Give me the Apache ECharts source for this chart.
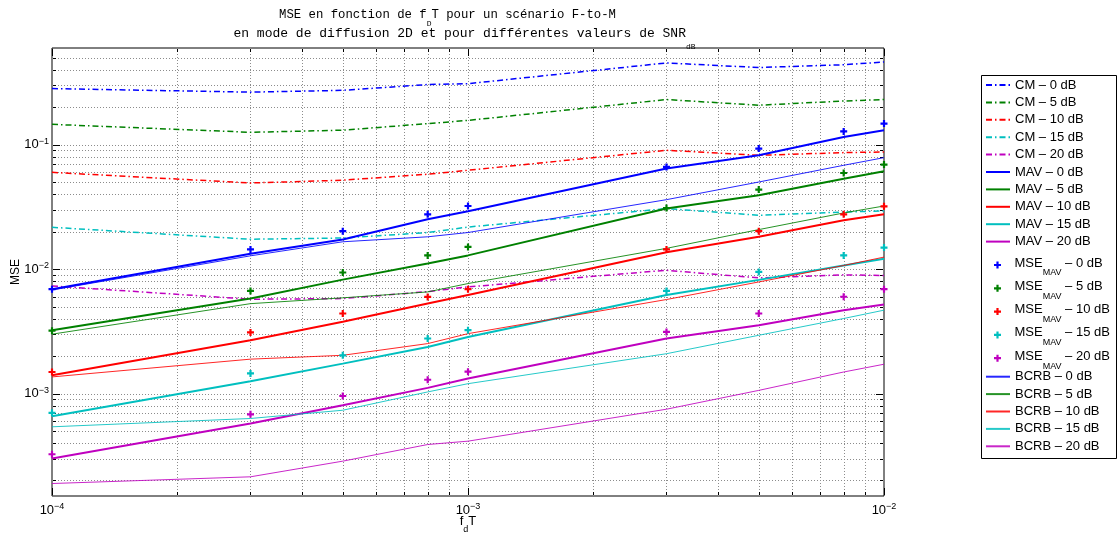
<!DOCTYPE html>
<html><head><meta charset="utf-8">
<script src="https://cdn.jsdelivr.net/npm/echarts@6/dist/echarts.min.js"></script>
<style>html,body{margin:0;padding:0;background:#fff}#c{width:1120px;height:536px}</style>
</head><body><div id="c"></div>
<script>
// ---- data ----
const FD_T = [1e-4, 3e-4, 5e-4, 8e-4, 1e-3, 3e-3, 5e-3, 8e-3, 1e-2];
const SNR_DB = ['0', '5', '10', '15', '20'];

const CM_0  = [0.283, 0.265, 0.274, 0.305, 0.31, 0.455, 0.418, 0.44, 0.463];
const CM_5  = [0.146, 0.126, 0.131, 0.148, 0.157, 0.231, 0.208, 0.225, 0.231];
const CM_10 = [0.060, 0.0493, 0.0519, 0.058, 0.0624, 0.0903, 0.0823, 0.0865, 0.0875];
const CM_15 = [0.0217, 0.0174, 0.0178, 0.0197, 0.0218, 0.0307, 0.0271, 0.0288, 0.0294];
const CM_20 = [0.00733, 0.00573, 0.0058, 0.0066, 0.0072, 0.0098, 0.0085, 0.009, 0.0089];

const MAV_0  = [0.0069, 0.0133, 0.0173, 0.0252, 0.0292, 0.0644, 0.0823, 0.1155, 0.131];
const MAV_5  = [0.00323, 0.0058, 0.00824, 0.0111, 0.0129, 0.0307, 0.0393, 0.0534, 0.0612];
const MAV_10 = [0.0014, 0.00268, 0.00377, 0.00529, 0.0062, 0.0137, 0.0182, 0.0247, 0.0276];
const MAV_15 = [0.000656, 0.001256, 0.00174, 0.00237, 0.00285, 0.0062, 0.0082, 0.0107, 0.0121];
const MAV_20 = [0.0003, 0.000574, 0.000806, 0.00111, 0.00132, 0.00277, 0.00354, 0.00468, 0.00519];

const MSE_0  = [0.0069, 0.0144, 0.0202, 0.0276, 0.0322, 0.0664, 0.0932, 0.128, 0.148];
const MSE_5  = [0.0032, 0.00668, 0.0094, 0.0129, 0.0151, 0.031, 0.0436, 0.0593, 0.0693];
const MSE_10 = [0.00149, 0.0031, 0.0044, 0.00598, 0.0069, 0.0144, 0.0202, 0.0276, 0.032];
const MSE_15 = [0.0007, 0.00145, 0.00203, 0.00277, 0.00323, 0.00668, 0.0095, 0.0129, 0.0149];
const MSE_20 = [0.000325, 0.00068, 0.000955, 0.00129, 0.0015, 0.00313, 0.0044, 0.006, 0.0069];

const BCRB_0  = [0.0068, 0.0128, 0.0166, 0.0182, 0.0197, 0.0362, 0.0502, 0.0684, 0.0788];
const BCRB_5  = [0.0030, 0.00528, 0.00588, 0.00656, 0.00766, 0.0147, 0.0208, 0.0283, 0.0322];
const BCRB_10 = [0.00136, 0.00189, 0.00203, 0.00252, 0.00303, 0.0057, 0.00789, 0.0107, 0.0125];
const BCRB_15 = [0.00054, 0.00063, 0.000734, 0.00103, 0.0012, 0.00209, 0.00294, 0.00401, 0.00468];
const BCRB_20 = [0.000189, 0.000214, 0.000286, 0.000389, 0.000414, 0.000748, 0.00106, 0.00149, 0.00172];

// axis grid/tick positions (log decades and their 2..9 subdivisions)
const X_GRID = [1e-4,2e-4,3e-4,4e-4,5e-4,6e-4,7e-4,8e-4,9e-4,1e-3,2e-3,3e-3,4e-3,5e-3,6e-3,7e-3,8e-3,9e-3,1e-2];
const Y_GRID = [2e-4,3e-4,4e-4,5e-4,6e-4,7e-4,8e-4,9e-4,1e-3,2e-3,3e-3,4e-3,5e-3,6e-3,7e-3,8e-3,9e-3,
                1e-2,2e-2,3e-2,4e-2,5e-2,6e-2,7e-2,8e-2,9e-2,1e-1,2e-1,3e-1,4e-1,5e-1];
const X_MIN = 1e-4, X_MAX = 1e-2, Y_MIN = 1.5e-4, Y_MAX = 0.6;

const CM = [CM_0, CM_5, CM_10, CM_15, CM_20];
const MAV = [MAV_0, MAV_5, MAV_10, MAV_15, MAV_20];
const MSE = [MSE_0, MSE_5, MSE_10, MSE_15, MSE_20];
const BCRB = [BCRB_0, BCRB_5, BCRB_10, BCRB_15, BCRB_20];
const COLORS = ['#0000ff', '#008000', '#ff0000', '#00bfbf', '#bf00bf'];

const SANS = '"Liberation Sans", Arial, Helvetica, sans-serif';
const MONO = '"Liberation Mono", "Courier New", monospace';
const pairs = arr => arr.map((v, i) => [FD_T[i], v]);
const isDecade = v => Math.abs(Math.log10(v) - Math.round(Math.log10(v))) < 1e-6;
const PLUS = 'path://M-1,-3.2H1V-1H3.2V1H1V3.2H-1V1H-3.2V-1H-1Z';

const series = [];
const cmNames = [], mavNames = [], mseNames = [], bcrbNames = [];
SNR_DB.forEach((s, k) => {
  const n = 'CM – ' + s + ' dB'; cmNames.push(n);
  series.push({ name: n, type: 'line', data: pairs(CM[k]), symbol: 'none', z: 3,
    lineStyle: { color: COLORS[k], width: 1.5, type: [6, 3, 1.5, 3] }, itemStyle: { color: COLORS[k] } });
});
SNR_DB.forEach((s, k) => {
  const n = 'MAV – ' + s + ' dB'; mavNames.push(n);
  series.push({ name: n, type: 'line', data: pairs(MAV[k]), symbol: 'none', z: 3,
    lineStyle: { color: COLORS[k], width: 2 }, itemStyle: { color: COLORS[k] } });
});
SNR_DB.forEach((s, k) => {
  const n = 'MSE_MAV – ' + s + ' dB'; mseNames.push(n);
  series.push({ name: n, type: 'scatter', data: pairs(MSE[k]), symbol: PLUS, symbolSize: 7, z: 4,
    clip: false, itemStyle: { color: COLORS[k], opacity: 1 } });
});
SNR_DB.forEach((s, k) => {
  const n = 'BCRB – ' + s + ' dB'; bcrbNames.push(n);
  series.push({ name: n, type: 'line', data: pairs(BCRB[k]), symbol: 'none', z: 3,
    lineStyle: { color: COLORS[k], width: 1, opacity: 0.85 }, itemStyle: { color: COLORS[k] } });
});

// dotted grid lines + inward ticks (major 8px, minor 4px) on all sides
const GRID_STYLE = { stroke: '#8c8c8c', lineWidth: 1, lineDash: [1, 2] };
series.push({
  type: 'custom', silent: true, z: 1, clip: false, encode: { x: 0, y: 1 },
  data: X_GRID.map(v => [v, 1e-2]),
  renderItem: (p, api) => {
    const v = api.value(0);
    const a = api.coord([v, Y_MAX]), b = api.coord([v, Y_MIN]);
    const x = Math.round(a[0]) + 0.5, len = isDecade(v) ? 8 : 4;
    const ch = [
      { type: 'line', shape: { x1: x, y1: b[1] - 1, x2: x, y2: b[1] - len }, style: { stroke: '#000', lineWidth: 1 } },
      { type: 'line', shape: { x1: x, y1: a[1] + 1, x2: x, y2: a[1] + len }, style: { stroke: '#000', lineWidth: 1 } }
    ];
    if (v !== X_MIN && v !== X_MAX) ch.unshift({ type: 'line', shape: { x1: x, y1: a[1], x2: x, y2: b[1] }, style: GRID_STYLE });
    return { type: 'group', children: ch };
  }
});
series.push({
  type: 'custom', silent: true, z: 1, clip: false, encode: { x: 0, y: 1 },
  data: Y_GRID.map(v => [1e-3, v]),
  renderItem: (p, api) => {
    const v = api.value(1);
    const a = api.coord([X_MIN, v]), b = api.coord([X_MAX, v]);
    const y = Math.round(a[1]) + 0.5, len = isDecade(v) ? 8 : 4;
    return { type: 'group', children: [
      { type: 'line', shape: { x1: a[0], y1: y, x2: b[0], y2: y }, style: GRID_STYLE },
      { type: 'line', shape: { x1: a[0] + 1, y1: y, x2: a[0] + len, y2: y }, style: { stroke: '#000', lineWidth: 1 } },
      { type: 'line', shape: { x1: b[0] - 1, y1: y, x2: b[0] - len, y2: y }, style: { stroke: '#000', lineWidth: 1 } }
    ] };
  }
});

const expLabel = v => {
  if (!isDecade(v)) return '';
  const e = Math.round(Math.log10(v));
  return '{b|10}{e|' + (e < 0 ? '−' : '') + Math.abs(e) + '}';
};
const expRich = {
  b: { fontSize: 13, lineHeight: 16, fontFamily: SANS, color: '#000' },
  e: { fontSize: 9, lineHeight: 3, verticalAlign: 'top', fontFamily: SANS, color: '#000' }
};

const legendBase = {
  orient: 'vertical', left: 985, padding: 0, itemWidth: 24, selectedMode: false,
  textStyle: { fontFamily: SANS, fontSize: 13, color: '#000' }
};

const option = {
  animation: false,
  backgroundColor: '#fff',
  title: [
    { text: '{t|MSE en fonction de f}{sub|D}{t|T pour un scénario F-to-M}', left: 447.5, top: 9, textAlign: 'center', padding: 0,
      textStyle: { fontWeight: 'normal', rich: {
        t: { fontFamily: MONO, fontSize: 12.3, fontWeight: 'normal', lineHeight: 13, verticalAlign: 'top', color: '#000' },
        sub: { fontFamily: MONO, fontSize: 8, fontWeight: 'normal', lineHeight: 8, padding: [11, 0, 0, 0], verticalAlign: 'top', color: '#000' } } } },
    { text: '{t|en mode de diffusion 2D et pour différentes valeurs de SNR}{sub|dB}', left: 464.5, top: 27, textAlign: 'center', padding: 0,
      textStyle: { fontWeight: 'normal', rich: {
        t: { fontFamily: MONO, fontSize: 13, fontWeight: 'normal', lineHeight: 13, verticalAlign: 'top', color: '#000' },
        sub: { fontFamily: MONO, fontSize: 8, fontWeight: 'normal', lineHeight: 8, padding: [16, 0, 0, 0], verticalAlign: 'top', color: '#000' } } } }
  ],
  grid: { left: 52, right: 236, top: 48, bottom: 40, outerBoundsMode: 'none', containLabel: false,
    show: true, borderColor: '#000', borderWidth: 1, backgroundColor: 'transparent' },
  xAxis: {
    type: 'log', logBase: 10, min: X_MIN, max: X_MAX,
    axisLine: { show: false }, axisTick: { show: false }, splitLine: { show: false },
    axisLabel: { formatter: expLabel, margin: 6, rich: expRich },
    name: '{n|f}{d|d}{n|T}', nameLocation: 'middle', nameGap: 19, nameMoveOverlap: false,
    nameTextStyle: { rich: {
      n: { fontFamily: SANS, fontSize: 13, lineHeight: 14, verticalAlign: 'top', color: '#000' },
      d: { fontFamily: SANS, fontSize: 9, lineHeight: 9, padding: [10, 0, 0, 0], verticalAlign: 'top', color: '#000' } } }
  },
  yAxis: {
    type: 'log', logBase: 10, min: Y_MIN, max: Y_MAX,
    axisLine: { show: false }, axisTick: { show: false }, splitLine: { show: false },
    axisLabel: { formatter: expLabel, margin: 3, rich: expRich },
    name: 'MSE', nameLocation: 'middle', nameGap: 30, nameRotate: 90, nameMoveOverlap: false,
    nameTextStyle: { fontFamily: SANS, fontSize: 12, color: '#000' }
  },
  legend: [
    Object.assign({}, legendBase, { top: 77, data: cmNames.concat(mavNames), itemHeight: 10, itemGap: 1.4,
      itemStyle: { opacity: 0 },
      textStyle: { fontFamily: SANS, fontSize: 13, lineHeight: 16, color: '#000' } }),
    Object.assign({}, legendBase, { top: 256.5, left: 994, data: mseNames, itemHeight: 7, itemGap: 2.3,
      formatter: n => '{m|MSE}{s|MAV}{r|' + n.replace('MSE_MAV', '') + '}',
      textStyle: { fontFamily: SANS, fontSize: 13, color: '#000', rich: {
        m: { fontFamily: SANS, fontSize: 13, lineHeight: 13, verticalAlign: 'top', color: '#000' },
        s: { fontFamily: SANS, fontSize: 9, lineHeight: 9, padding: [12, 0, 0, 0], verticalAlign: 'top', color: '#000' },
        r: { fontFamily: SANS, fontSize: 13, lineHeight: 17, verticalAlign: 'top', color: '#000' } } } }),
    Object.assign({}, legendBase, { top: 368.7, data: bcrbNames, itemHeight: 10, itemGap: 1.4,
      itemStyle: { opacity: 0 },
      textStyle: { fontFamily: SANS, fontSize: 13, lineHeight: 16, color: '#000' } })
  ],
  graphic: [
    { type: 'rect', shape: { x: 981.5, y: 75.5, width: 135, height: 383 }, style: { fill: 'none', stroke: '#000', lineWidth: 1 }, z: -1 }
  ],
  series: series
};

const chart = echarts.init(document.getElementById('c'), null, { renderer: 'canvas' });
chart.setOption(option);
</script>
</body></html>
